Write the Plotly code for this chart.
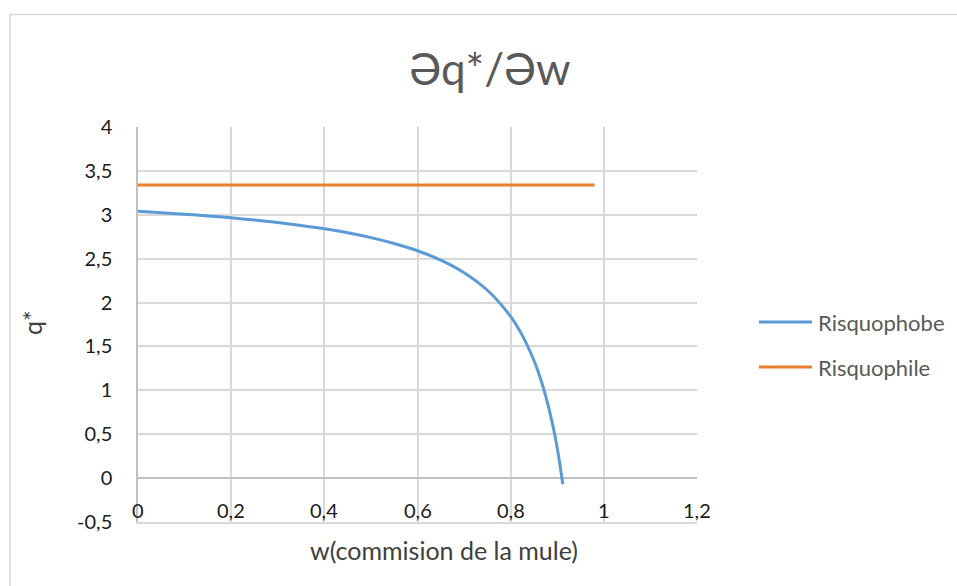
import plotly.graph_objects as go

# Commission of the mule (w) and optimal quantity q* for each attitude to risk
w_phobe = [0, 0.05, 0.1, 0.15, 0.2, 0.25, 0.3, 0.35, 0.4, 0.45, 0.5, 0.55, 0.6,
           0.65, 0.7, 0.75, 0.8, 0.825, 0.85, 0.86, 0.875, 0.89, 0.9, 0.905, 0.912]
q_phobe = [3.04, 3.024, 3.007, 2.987, 2.965, 2.94, 2.911, 2.878, 2.84, 2.795, 2.74,
           2.673, 2.59, 2.483, 2.34, 2.14, 1.84, 1.626, 1.34, 1.197, 0.94, 0.613,
           0.34, 0.18, -0.07]
w_phile = [0, 0.98]
q_phile = [3.34, 3.34]

series_names = ["Risquophobe", "Risquophile"]
series_colors = ["#5B9BD5", "#ED7D31"]

x_ticks = [0, 0.2, 0.4, 0.6, 0.8, 1, 1.2]
x_tick_text = ["0", "0,2", "0,4", "0,6", "0,8", "1", "1,2"]
y_ticks = [-0.5, 0, 0.5, 1, 1.5, 2, 2.5, 3, 3.5, 4]
y_tick_text = ["-0,5", "0", "0,5", "1", "1,5", "2", "2,5", "3", "3,5", "4"]

FONT = "Lato, 'Open Sans', sans-serif"
W, H = 957, 586
L, R, T, B = 138, 260, 127, 64
pw, ph = W - L - R, H - T - B


def px_x(p):
    return (p - L) / pw


def px_y(p):
    return (H - B - p) / ph


fig = go.Figure()
fig.add_trace(go.Scatter(x=w_phobe, y=q_phobe, mode="lines", name=series_names[0],
                         line=dict(color=series_colors[0], width=3, shape="spline",
                                   smoothing=0.8),
                         showlegend=False))
fig.add_trace(go.Scatter(x=w_phile, y=q_phile, mode="lines", name=series_names[1],
                         line=dict(color=series_colors[1], width=3),
                         showlegend=False))

shapes = [
    # outer chart frame
    dict(type="rect", xref="paper", yref="paper",
         x0=px_x(10), x1=px_x(W + 20), y0=px_y(H + 20), y1=px_y(14.5),
         line=dict(color="#d9d9d9", width=1.5), fillcolor="rgba(0,0,0,0)", layer="below"),
]
annotations = []
legend_rows = [322, 367]
for name, color, yy in zip(series_names, series_colors, legend_rows):
    shapes.append(dict(type="line", xref="paper", yref="paper",
                       x0=px_x(759), x1=px_x(812), y0=px_y(yy), y1=px_y(yy),
                       line=dict(color=color, width=3)))
    annotations.append(dict(xref="paper", yref="paper", x=px_x(816), y=px_y(yy),
                            xanchor="left", yanchor="middle", showarrow=False,
                            text=name, font=dict(family=FONT, size=22, color="#595959")))

# horizontal axis labels sit just above the bottom edge of the plot
for v, t in zip(x_ticks, x_tick_text):
    annotations.append(dict(xref="x", yref="paper", x=v, y=px_y(510),
                            xanchor="center", yanchor="middle", showarrow=False,
                            text=t, font=dict(family=FONT, size=20, color="#1a1a1a")))

# axis titles
annotations.append(dict(xref="paper", yref="paper", x=px_x(444), y=px_y(550),
                        xanchor="center", yanchor="middle", showarrow=False,
                        text="w(commision de la mule)",
                        font=dict(family=FONT, size=25, color="#404040")))
annotations.append(dict(xref="paper", yref="paper", x=px_x(32), y=px_y(323),
                        xanchor="center", yanchor="middle", showarrow=False, textangle=-90,
                        text="q*", font=dict(family=FONT, size=25, color="#404040")))

fig.update_layout(
    width=W, height=H,
    margin=dict(l=L, r=R, t=T, b=B),
    paper_bgcolor="white", plot_bgcolor="white",
    title=dict(text="Əq*/Əw", x=490 / W, xanchor="center", y=1 - 70 / H, yanchor="middle",
               font=dict(family=FONT, size=44, color="#595959")),
    shapes=shapes,
    annotations=annotations,
    font=dict(family=FONT),
)
fig.update_xaxes(
    range=[0, 1.2], tickvals=x_ticks, ticktext=[""] * len(x_ticks),
    showgrid=True, gridcolor="#d9d9d9", gridwidth=1.5,
    showline=True, linecolor="#d9d9d9", linewidth=1.5,
    zeroline=False, ticks="",
)
fig.update_yaxes(
    range=[-0.5, 4], tickvals=y_ticks, ticktext=y_tick_text,
    showgrid=True, gridcolor="#d9d9d9", gridwidth=1.5,
    showline=True, linecolor="#bfbfbf", linewidth=1.5,
    zeroline=True, zerolinecolor="#bfbfbf", zerolinewidth=1.5,
    ticks="", ticklabelstandoff=20, ticklabeloverflow="allow",
    tickfont=dict(family=FONT, size=20, color="#1a1a1a"),
)

fig.write_html("out.html")
